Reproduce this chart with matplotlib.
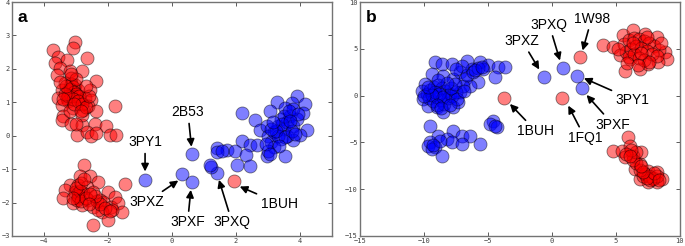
import matplotlib
matplotlib.use("Agg")
import matplotlib.pyplot as plt
import numpy as np

# panel a: point clouds
A_RED = [(-3.02, 2.81), (-3.08, 2.63), (-3.71, 2.56), (-3.55, 2.36), (-3.29, 2.28), (-2.67, 2.33),
         (-3.65, 2.18), (-3.50, 2.03), (-3.60, 1.83), (-3.19, 1.93), (-3.14, 1.73), (-2.82, 1.93),
         (-2.36, 1.65), (-3.34, 1.58), (-3.03, 1.53), (-3.45, 1.38), (-3.24, 1.33), (-2.93, 1.38),
         (-2.57, 1.36), (-3.55, 1.13), (-3.29, 1.13), (-2.98, 1.18), (-2.72, 1.13), (-3.24, 1.03),
         (-2.88, 1.08), (-2.52, 1.08), (-3.45, 0.93), (-3.08, 0.83), (-2.77, 0.78), (-2.62, 0.88),
         (-2.36, 0.73), (-1.79, 0.90), (-3.40, 0.58), (-3.45, 0.48), (-3.14, 0.36), (-2.82, 0.33),
         (-2.41, 0.36), (-2.05, 0.30), (-2.98, 0.03), (-2.67, 0.10), (-2.52, -0.02), (-2.36, 0.08),
         (-1.95, 0.03), (-1.74, 0.03), (-2.82, 0.63), (-3.19, 0.73),
         (-3.15, 1.55), (-3.10, 1.45), (-3.20, 1.40), (-3.05, 1.30), (-3.15, 1.20), (-3.00, 1.25),
         (-2.90, 1.20), (-3.25, 1.20), (-3.10, 1.10), (-2.95, 1.05), (-2.80, 0.95), (-2.70, 0.85),
         (-3.35, 1.25), (-3.40, 1.10), (-3.05, 0.95), (-2.85, 0.75), (-3.00, 0.35), (-2.60, 1.20),
         (-3.30, 1.50), (-3.50, 1.60), (-3.00, 1.70), (-2.70, 1.50), (-3.15, 1.85),
         # lower cloud
         (-2.74, -0.87), (-2.88, -1.22), (-2.57, -1.22), (-2.31, -1.37), (-3.19, -1.47), (-2.93, -1.47),
         (-2.67, -1.52), (-3.34, -1.62), (-3.03, -1.67), (-2.77, -1.72), (-2.46, -1.67), (-1.99, -1.67),
         (-1.48, -1.45), (-3.40, -1.87), (-2.93, -1.87), (-2.62, -1.92), (-2.26, -1.92), (-1.79, -1.82),
         (-3.08, -2.02), (-2.82, -2.07), (-2.46, -2.12), (-2.16, -1.97), (-1.90, -2.12), (-1.69, -2.02),
         (-1.55, -2.27), (-1.86, -2.22), (-2.20, -2.27), (-2.00, -2.52), (-2.46, -2.67), (-2.31, -2.22),
         (-2.93, -1.72), (-2.98, -1.92), (-2.95, -1.80), (-2.88, -1.65), (-3.00, -1.55), (-2.85, -1.95),
         (-2.70, -1.85), (-2.35, -1.95), (-2.25, -2.05), (-2.10, -2.15), (-1.95, -2.25), (-2.40, -1.80),
         (-2.55, -1.75), (-2.60, -2.05), (-3.10, -1.85), (-2.85, -1.40), (-2.75, -1.30),
         # 1BUH
         (1.94, -1.34)]

A_BLUE = [(-0.84, -1.32), (0.62, -0.55), (0.33, -1.14), (0.62, -1.37), (1.42, -1.12), (1.23, -0.94),
          (3.90, 1.20), (4.16, 0.96), (3.27, 1.00), (3.74, 0.98), (2.18, 0.68), (3.06, 0.73),
          (3.53, 0.83), (4.10, 0.68), (4.21, 0.18), (2.59, 0.46), (2.75, 0.16), (2.96, 0.28),
          (4.00, 0.03), (3.79, -0.12), (2.18, -0.17), (2.44, -0.27), (2.65, -0.27), (1.40, -0.37),
          (1.71, -0.42), (1.97, -0.47), (2.33, -0.57), (2.96, -0.62), (3.53, -0.62), (1.19, -0.87),
          (2.02, -0.87), (2.44, -0.92), (1.42, -0.48), (1.55, -0.45),
          (3.00, 0.00), (3.10, -0.20), (3.20, 0.10), (3.30, 0.30), (3.40, 0.50), (3.50, 0.20),
          (3.60, 0.40), (3.70, 0.60), (3.80, 0.30), (3.90, 0.50), (3.60, 0.00), (3.40, -0.10),
          (3.20, -0.35), (3.00, -0.45), (3.30, 0.00), (3.50, 0.60), (3.80, 0.80), (3.65, 0.75),
          (3.45, 0.35), (3.25, 0.15), (3.10, 0.20), (3.55, -0.05), (3.75, 0.15), (3.95, 0.65),
          (3.35, -0.30), (2.95, -0.25), (3.15, 0.40), (3.70, 0.45), (3.85, 0.05), (3.05, -0.55)]

A_LABELS = ["3PY1", "2B53", "3PXZ", "3PXF", "3PXQ", "1BUH"]
A_TEXT = [(-0.84, -0.20), (0.50, 0.70), (-0.78, -1.98), (0.49, -2.59), (1.88, -2.59), (3.35, -2.03)]
A_TIP = [(-0.84, -1.07), (0.61, -0.33), (0.20, -1.34), (0.59, -1.62), (1.47, -1.32), (2.12, -1.52)]

# panel b
B_RED = [(4.01, 5.36), (4.79, 5.18), (5.70, 2.68), (6.88, 2.86), (5.57, 6.43), (6.35, 6.97),
         (7.27, 6.61), (8.18, 6.25), (8.83, 4.65), (8.96, 3.93), (8.30, 3.58), (7.52, 3.40),
         (6.09, 3.93), (5.31, 4.29),
         (5.6, 5.5), (6.0, 5.9), (6.4, 6.2), (6.8, 6.0), (7.2, 5.8), (7.6, 5.6), (8.0, 5.3),
         (8.4, 4.9), (5.8, 4.7), (6.2, 5.0), (6.6, 5.3), (7.0, 5.1), (7.4, 4.8), (7.8, 4.5),
         (8.2, 4.2), (6.0, 4.1), (6.4, 4.4), (6.8, 4.0), (7.2, 3.8), (7.6, 3.6), (5.9, 3.5),
         (6.7, 3.3), (7.0, 4.6), (6.3, 5.6), (7.4, 6.3), (5.2, 5.0), (8.5, 5.6),
         # lower cloud
         (5.96, -4.46), (4.79, -5.89), (5.44, -5.89), (6.09, -5.36), (7.00, -6.07), (6.35, -6.43),
         (5.70, -6.61), (6.88, -7.32), (6.48, -7.86), (7.52, -8.04), (8.18, -8.21), (8.57, -8.93),
         (8.18, -9.28), (7.52, -9.28), (6.88, -8.93), (7.13, -8.57), (7.91, -8.75),
         (7.3, -8.4), (7.6, -8.6), (7.9, -8.9), (8.2, -8.6), (7.7, -9.0), (7.4, -8.8), (8.0, -8.3),
         (6.9, -7.9), (6.6, -7.2), (6.3, -6.9), (6.6, -6.0), (6.2, -5.8), (5.8, -6.2), (7.1, -8.2),
         (8.4, -9.0), (7.0, -7.5), (6.1, -6.4),
         # singles
         (2.19, 4.11), (-3.72, -0.21), (0.81, -0.21)]

B_BLUE = [(-0.63, 2.04), (0.89, 2.96), (1.93, 2.14), (2.34, 0.79),
          (-9.14, 3.58), (-8.62, 3.40), (-7.84, 3.40), (-6.67, 3.75), (-5.63, 3.58), (-4.97, 3.22),
          (-4.19, 3.04), (-3.67, 3.04), (-4.45, 1.97), (-6.28, 2.86), (-5.37, 2.86), (-7.19, 2.50),
          (-9.40, 2.33), (-8.49, 2.14), (-7.71, 1.79), (-6.80, 1.79), (-5.76, 1.43), (-6.41, 1.07),
          (-9.92, 1.25), (-10.18, 0.54), (-10.05, -0.35), (-9.66, -1.07), (-9.01, -1.24), (-8.49, -1.78),
          (-7.71, -1.24), (-7.32, -0.71), (-7.19, 0.36), (-6.93, 1.07),
          (-9.8, 0.2), (-9.5, 0.6), (-9.2, 0.9), (-8.9, 1.1), (-8.6, 0.8), (-8.3, 0.5), (-8.0, 0.2),
          (-9.6, -0.3), (-9.3, -0.6), (-9.0, -0.2), (-8.7, -0.5), (-8.4, -0.9), (-8.1, -0.3),
          (-7.8, 0.0), (-7.5, 0.4), (-9.1, 0.4), (-8.8, 0.2), (-8.5, -0.1), (-9.4, 0.1), (-9.0, -1.0),
          (-8.7, -1.3), (-7.9, 0.8), (-7.6, 1.2), (-8.2, 1.4), (-10.0, 0.0), (-9.7, 0.9), (-8.9, 1.7),
          (-7.4, -0.4), (-8.0, -1.0), (-6.9, 0.5), (-6.6, 2.2), (-6.2, 2.5), (-5.8, 3.0), (-6.0, 2.7),
          (-5.5, 3.1), (-7.0, 3.2), (-7.5, 2.8),
          # lower group
          (-9.53, -3.22), (-4.58, -2.68), (-4.84, -3.04), (-4.27, -3.39), (-4.45, -3.20),
          (-7.71, -3.75), (-7.06, -4.29), (-6.41, -4.29), (-8.88, -4.29), (-8.23, -4.64),
          (-9.53, -5.00), (-9.14, -5.53), (-9.66, -5.36), (-9.40, -5.70), (-8.62, -6.43),
          (-7.84, -5.00), (-7.06, -5.18), (-5.63, -5.18), (-8.75, -4.82), (-9.30, -5.30)]

B_LABELS = ["3PXZ", "3PXQ", "1W98", "3PY1", "3PXF", "1FQ1", "1BUH"]
B_TEXT = [(-2.32, 5.82), (-0.21, 7.57), (3.10, 8.21), (6.30, -0.43), (4.79, -3.11), (2.58, -4.50), (-1.25, -3.79)]
B_TIP = [(-0.99, 2.79), (0.63, 3.75), (2.40, 4.82), (2.50, 1.86), (2.71, 0.07), (1.28, -1.07), (-3.28, -0.89)]


def panel(ax, red, blue, labels, texts, tips, letter, xlim, ylim, xticks, yticks):
    r = np.array(red)
    b = np.array(blue)
    ax.scatter(r[:, 0], r[:, 1], s=88, c="red", alpha=0.5, edgecolors="k", linewidths=0.6, zorder=2)
    ax.scatter(b[:, 0], b[:, 1], s=88, c="blue", alpha=0.5, edgecolors="k", linewidths=0.6, zorder=2)
    for lab, t, p in zip(labels, texts, tips):
        ax.annotate(lab, xy=p, xytext=t, ha="center", va="center", fontsize=10,
                    family="Liberation Sans",
                    arrowprops=dict(arrowstyle="-|>", color="k", lw=1.2, mutation_scale=11,
                                    shrinkA=1, shrinkB=0))
    ax.text(0.018, 0.965, letter, transform=ax.transAxes, fontsize=12.5, fontweight="bold",
            family="Liberation Sans", va="top", ha="left")
    ax.set_xlim(xlim)
    ax.set_ylim(ylim)
    ax.set_xticks(xticks)
    ax.set_yticks(yticks)
    ax.tick_params(direction="in", top=True, right=True, length=3, width=0.6, pad=1.5,
                   labelsize=5, colors="0.25")
    for lbl in ax.get_xticklabels() + ax.get_yticklabels():
        lbl.set_family("DejaVu Sans Mono")
    for s in ax.spines.values():
        s.set_color("0.45")
        s.set_linewidth(1.0)


fig = plt.figure(figsize=(6.85, 2.46), dpi=100)
ax1 = fig.add_axes([0.0175, 0.0407, 0.467, 0.951])
ax2 = fig.add_axes([0.5255, 0.0407, 0.467, 0.951])

panel(ax1, A_RED, A_BLUE, A_LABELS, A_TEXT, A_TIP, "a", (-5, 5), (-3, 4),
      [-4, -2, 0, 2, 4], [-3, -2, -1, 0, 1, 2, 3, 4])
panel(ax2, B_RED, B_BLUE, B_LABELS, B_TEXT, B_TIP, "b", (-15, 10), (-15, 10),
      [-15, -10, -5, 0, 5, 10], [-15, -10, -5, 0, 5, 10])

fig.savefig("out.png", dpi=100)
